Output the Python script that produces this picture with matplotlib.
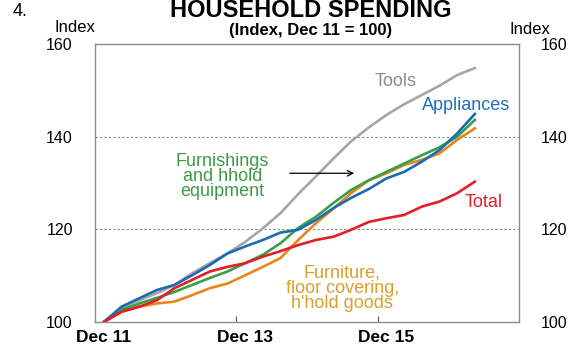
import matplotlib
matplotlib.use("Agg")
import matplotlib.pyplot as plt
from matplotlib.ticker import FixedLocator, NullFormatter, FixedFormatter

plt.rcParams['font.family'] = ['Liberation Sans', 'DejaVu Sans']

# Quarterly observations, index Dec 11 = 100
quarters = list(range(22))
tools = [100, 103.0, 104.7, 106.2, 108.0, 110.5, 112.7, 114.8, 117.3, 120.2, 123.5,
         127.6, 131.4, 135.3, 139.0, 142.0, 144.7, 147.0, 149.0, 151.0, 153.3, 154.8]
appliances = [100, 103.3, 105.1, 106.9, 108.0, 110.1, 112.3, 114.8, 116.3, 117.7, 119.3,
              119.9, 122.0, 124.6, 126.8, 128.7, 131.0, 132.4, 134.6, 137.1, 140.7, 144.9]
furnishings = [100, 102.6, 104.0, 105.2, 106.5, 108.0, 109.5, 110.9, 112.7, 114.5, 117.0,
               120.3, 122.7, 125.7, 128.5, 130.6, 132.4, 134.2, 136.0, 137.7, 140.0, 143.6]
furniture = [100, 102.2, 103.3, 104.0, 104.4, 105.8, 107.3, 108.3, 110.1, 111.9, 113.8,
             117.7, 121.3, 124.5, 127.8, 130.6, 132.1, 133.9, 135.0, 136.4, 139.3, 141.8]
total = [100, 102.2, 103.3, 104.7, 107.3, 109.1, 110.9, 111.9, 112.7, 114.1, 115.3,
         116.6, 117.7, 118.4, 119.9, 121.6, 122.4, 123.1, 124.9, 126.0, 127.8, 130.3]

xtick_labels = ["Dec 11", "Dec 13", "Dec 15"]
xtick_pos = [0, 8, 16]
yticks = [100, 120, 140, 160]

fig = plt.figure(figsize=(5.8, 3.52), dpi=100)
ax = fig.add_axes([95/580, 1-322/352, (519-95)/580, (322-44)/352])

lw = 1.9
ax.plot(quarters, tools, color="#a6a6a6", lw=lw)
ax.plot(quarters, furniture, color="#e8861a", lw=lw)
ax.plot(quarters, furnishings, color="#3a9e48", lw=lw)
ax.plot(quarters, appliances, color="#1b6ab3", lw=lw)
ax.plot(quarters, total, color="#e31e26", lw=lw)

ax.set_xlim(-0.5, 23.5)
ax.set_ylim(100, 160)

for y in [120, 140]:
    ax.axhline(y, color="#8a8a8a", lw=0.8, ls=(0, (2, 2)), zorder=0)

for s in ax.spines.values():
    s.set_color("#8c8c8c")
    s.set_linewidth(1.0)

ax.set_yticks(yticks)
ax.tick_params(axis='y', length=0, labelsize=11.5, labelleft=True, labelright=True, pad=16)

ax.xaxis.set_major_locator(FixedLocator([7.5, 15.5]))
ax.xaxis.set_major_formatter(NullFormatter())
ax.xaxis.set_minor_locator(FixedLocator(xtick_pos))
ax.xaxis.set_minor_formatter(FixedFormatter(xtick_labels))
ax.tick_params(axis='x', which='major', direction='in', length=4, color="#555555")
ax.tick_params(axis='x', which='minor', length=0, labelsize=12.5, pad=6)
for t in ax.xaxis.get_minorticklabels():
    t.set_fontweight('bold')

# Series labels
fs = 13
ax.text(16.5, 151.8, "Tools", color="#8c8c8c", fontsize=fs, ha='center', va='center')
ax.text(20.5, 146.8, "Appliances", color="#1f6fb8", fontsize=fs, ha='center', va='center')
ax.text(6.7, 131.5, "Furnishings\nand hhold\nequipment", color="#3f9a48", fontsize=fs,
        ha='center', va='center', linespacing=0.85)
ax.text(21.5, 125.7, "Total", color="#e0202a", fontsize=fs, ha='center', va='center')
ax.text(13.5, 107.3, "Furniture,\nfloor covering,\nh'hold goods", color="#d9a02c", fontsize=fs,
        ha='center', va='center', linespacing=0.85)
ax.annotate("", xy=(14.33, 132.1), xytext=(10.37, 132.1),
            arrowprops=dict(arrowstyle="->", color="black", lw=0.9))

fig.text(13/580, 1-12/352, "4.", fontsize=13, ha='left', va='center')
fig.text(311/580, 1-10.5/352, "HOUSEHOLD SPENDING", fontsize=17, fontweight='bold',
         ha='center', va='center')
fig.text(311/580, 1-31/352, "(Index, Dec 11 = 100)", fontsize=12, fontweight='bold',
         ha='center', va='center')
fig.text(75/580, 1-28/352, "Index", fontsize=12, ha='center', va='center')
fig.text(530/580, 1-30/352, "Index", fontsize=12, ha='center', va='center')

fig.savefig("out.png", dpi=100)
